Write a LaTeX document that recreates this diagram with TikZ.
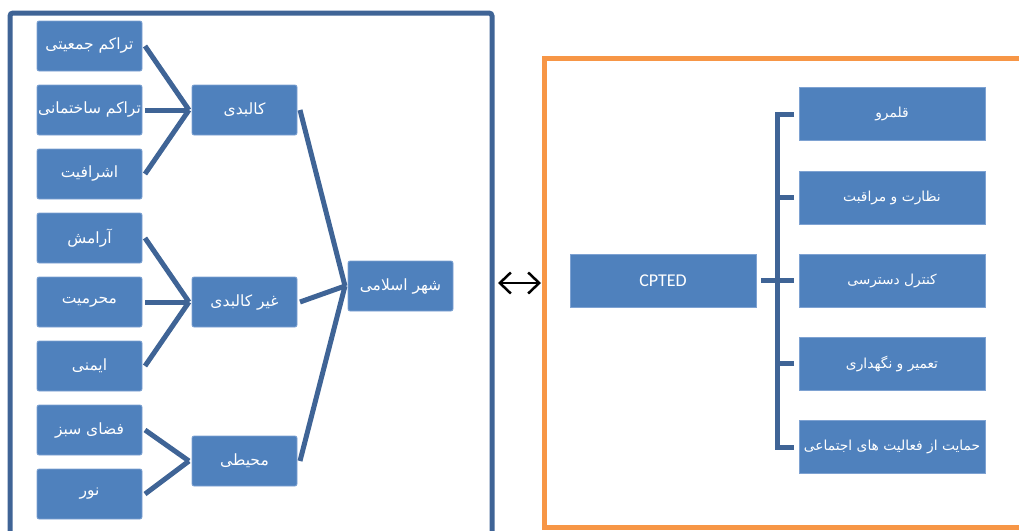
\documentclass[tikz,border=0pt]{standalone}
\usepackage{fontspec}
\setmainfont{Carlito}
\newfontfamily\farsi[Script=Arabic]{DejaVu Sans}
\TeXXeTstate=1
\usetikzlibrary{arrows.meta}
\definecolor{boxblue}{HTML}{4F81BD}
\definecolor{boxedge}{HTML}{7EA2D2}
\definecolor{linkblue}{HTML}{3F6496}
\definecolor{frameorange}{HTML}{F79646}
\newcommand{\fa}[1]{{\farsi\beginR #1\endR}}
\tikzset{
  cell/.style={fill=boxblue, draw=boxedge, line width=0.8pt, text=white, rounded corners=2pt,
    minimum width=105pt, minimum height=50pt, inner sep=0pt, outer sep=3pt,
    font=\fontsize{15.5}{18}\selectfont},
  item/.style={cell, rounded corners=0pt, minimum width=186pt, minimum height=53pt, outer sep=5pt,
    font=\fontsize{13.8}{16}\selectfont},
  link/.style={draw=linkblue, line width=5pt},
}
\begin{document}
\begin{tikzpicture}[x=1pt, y=-1pt]
            \useasboundingbox (0,0) rectangle (1019,530);
            \clip (0,0) rectangle (1019,530);
            \draw[linkblue, line width=5pt, rounded corners=3pt] (10,13) rectangle (492,545);
            \draw[frameorange, line width=5pt] (544,58) rectangle (1035,527);
            \node[cell] (t0) at (89.5, 46) {\fa{تراکم جمعیتی}};
            \node[cell] (t1) at (89.5, 110) {\fa{تراکم ساختمانی}};
            \node[cell] (t2) at (89.5, 174) {\fa{اشرافیت}};
            \node[cell] (t3) at (89.5, 238) {\fa{آرامش}};
            \node[cell] (t4) at (89.5, 302) {\fa{محرمیت}};
            \node[cell] (t5) at (89.5, 366) {\fa{ایمنی}};
            \node[cell] (t6) at (89.5, 430) {\fa{فضای سبز}};
            \node[cell] (t7) at (89.5, 494) {\fa{نور}};
            \node[cell] (k0) at (244.5, 110) {\fa{کالبدی}};
            \node[cell] (k1) at (244.5, 302) {\fa{غیر کالبدی}};
            \node[cell] (k2) at (244.5, 461) {\fa{محیطی}};
            \node[cell] (s) at (400.5, 286) {\fa{شهر اسلامی}};
            \node[item, font=\fontsize{18}{20}\selectfont] (cp) at (663, 280.5) {CPTED};
            \node[item] (q0) at (892, 114) {\fa{قلمرو}};
            \node[item] (q1) at (892, 197.5) {\fa{نظارت و مراقبت}};
            \node[item] (q2) at (892, 280.5) {\fa{کنترل دسترسی}};
            \node[item] (q3) at (892, 363.5) {\fa{تعمیر و نگهداری}};
            \node[item] (q4) at (892, 447) {\fa{حمایت از فعالیت های اجتماعی}};
            \coordinate (j) at (777, 280.5);
            \coordinate (u) at (498, 283);
            \coordinate (w) at (541, 283);
            \draw[link] (t0.east) -- (k0.west);
            \draw[link] (t1.east) -- (k0.west);
            \draw[link] (t2.east) -- (k0.west);
            \draw[link] (t3.east) -- (k1.west);
            \draw[link] (t4.east) -- (k1.west);
            \draw[link] (t5.east) -- (k1.west);
            \draw[link] (t6.east) -- (k2.west);
            \draw[link] (t7.east) -- (k2.west);
            \draw[link] (k0.east) -- (s.west);
            \draw[link] (k1.east) -- (s.west);
            \draw[link] (k2.east) -- (s.west);
            \draw[link] (cp.east) -- (j);
            \draw[link] (q0.west) -| (j) |- (q4.west);
            \draw[link] (q1.west) -- (q1.west -| j);
            \draw[link] (q2.west) -- (q2.west -| j);
            \draw[link] (q3.west) -- (q3.west -| j);
            \draw[line width=1.5pt, {Straight Barb[length=11pt,width=21pt,line width=2.5pt]}-{Straight Barb[length=11pt,width=21pt,line width=2.5pt]}] (u) -- (w);
            \end{tikzpicture}
\end{document}
